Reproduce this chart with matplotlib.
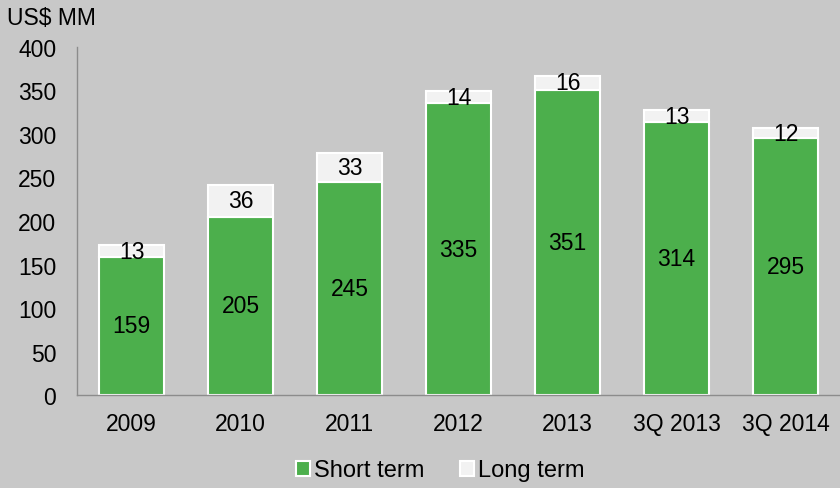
import matplotlib.pyplot as plt
import numpy as np

plt.rcParams['font.family'] = ['Liberation Sans', 'DejaVu Sans']

categories = ['2009', '2010', '2011', '2012', '2013', '3Q 2013', '3Q 2014']
short_term = [159, 205, 245, 335, 351, 314, 295]
long_term = [13, 36, 33, 14, 16, 13, 12]

bg = '#C8C8C8'
green = '#4CAF4C'
light = '#F2F2F2'
fs = 16.5

fig = plt.figure(figsize=(8.4, 4.89), dpi=100, facecolor=bg)
ax = fig.add_axes([0.0917, 0.19, 0.9083, 0.712], facecolor=bg)

x = np.arange(len(categories))
w = 0.59
b1 = ax.bar(x, short_term, w, color=green, edgecolor='white', linewidth=1.5, label='Short term')
b2 = ax.bar(x, long_term, w, bottom=short_term, color=light, edgecolor='white', linewidth=1.5, label='Long term')

# value labels in the middle of each segment
for i in range(len(x)):
    ax.text(x[i], short_term[i] / 2, str(short_term[i]), ha='center', va='center', fontsize=fs)
    ax.text(x[i], short_term[i] + long_term[i] / 2, str(long_term[i]), ha='center', va='center', fontsize=fs)

ax.set_xlim(-0.5, len(categories) - 0.5)
ax.set_ylim(0, 400)
ax.set_yticks(range(0, 401, 50))
ax.set_xticks(x)
ax.set_xticklabels(categories)
ax.tick_params(axis='both', length=0, labelsize=fs)
ax.tick_params(axis='x', pad=12)
ax.tick_params(axis='y', pad=15)
for s in ['top', 'right']:
    ax.spines[s].set_visible(False)
for s in ['left', 'bottom']:
    ax.spines[s].set_color('#8C8C8C')
    ax.spines[s].set_linewidth(1)

fig.text(0.008, 0.962, 'US$ MM', fontsize=fs, va='center', ha='left')

leg = fig.legend(handles=[b1, b2], loc='center', bbox_to_anchor=(0.524, 0.036), ncol=2,
                 frameon=False, fontsize=17, handlelength=0.6, handleheight=0.6,
                 handletextpad=0.15, columnspacing=1.5)

fig.savefig('out.png', dpi=100, facecolor=bg)
